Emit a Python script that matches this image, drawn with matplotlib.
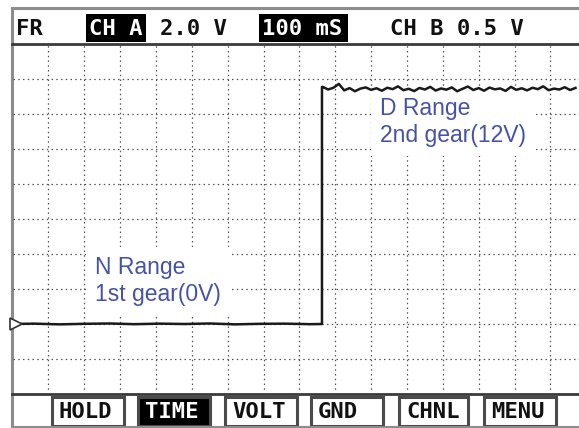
import numpy as np
import matplotlib
matplotlib.use("Agg")
import matplotlib.pyplot as plt
from matplotlib.patches import Rectangle

# ---- scope settings / labels ----
header_tokens = ["FR", "CH A", "2.0 V", "100 mS", "CH B 0.5 V"]
header_inverted = ["CH A", "100 mS"]
button_labels = ["HOLD", "TIME", "VOLT", "GND", "CHNL", "MENU"]
active_button = "TIME"

ms_per_div = 100
volt_per_div = 2.0

# ---- trace (ms, V) ----
low_t = [0, 60, 130, 200, 270, 340, 410, 480, 550, 620, 690, 760, 830, 863]
low_v = [0.0, 0.02, -0.02, 0.01, 0.03, -0.01, 0.02, 0.0, 0.03, -0.02, 0.01, 0.02, -0.01, 0.0]
step_t = 863
high_t = np.arange(865, 1585, 15)
high_v = [13.55, 13.40, 13.50, 13.72, 13.35, 13.48, 13.30, 13.45, 13.52, 13.38,
          13.47, 13.33, 13.50, 13.42, 13.58, 13.36, 13.44, 13.31, 13.49, 13.40,
          13.55, 13.34, 13.46, 13.39, 13.52, 13.30, 13.44, 13.57, 13.37, 13.48,
          13.33, 13.51, 13.41, 13.46, 13.32, 13.55, 13.38, 13.47, 13.35, 13.50,
          13.42, 13.58, 13.36, 13.45, 13.40, 13.53, 13.37, 13.49]

# label position = left edge and baseline of the last line (ms, V)
notes = [(230, 1.31, "N Range\n1st gear(0V)"),
         (1025, 10.4, "D Range\n2nd gear(12V)")]

W, H = 579, 428
fig = plt.figure(figsize=(W / 100, H / 100), dpi=100)

# pixel overlay for the instrument frame
bg = fig.add_axes([0, 0, 1, 1])
bg.set_xlim(0, W); bg.set_ylim(H, 0); bg.axis("off")

# scope screen: 0 ms at px 12.5, 35.86 px/div; 16 V at px 44, -4 V at px 394
div_px = 35.86
x0 = 12.5
ax = fig.add_axes([x0 / W, (H - 394) / H, (W - x0) / W, (394 - 44) / H])
ax.set_facecolor("none")
ax.set_xlim(0, (W - x0) / div_px * ms_per_div)
ax.set_ylim(-2 * volt_per_div, 8 * volt_per_div)
ax.set_xticks(np.arange(ms_per_div, 1600, ms_per_div))
ax.set_yticks(np.arange(-volt_per_div, 16, volt_per_div))
ax.tick_params(length=0, labelbottom=False, labelleft=False)
ax.grid(True, color="#555555", lw=0.9, ls=(0, (1.2, 2.6)))
for s in ax.spines.values():
    s.set_visible(False)

trace_t = list(low_t) + [step_t] + list(high_t)
trace_v = list(low_v) + [high_v[0]] + list(high_v)
ax.plot(trace_t, trace_v, color="#1a1a1a", lw=1.8, zorder=4)
ax.plot([10], [0], marker=">", ms=9, mfc="white", mec="#333333", mew=1.2,
        clip_on=False, zorder=5)

for t, v, txt in notes:
    ax.text(t, v, txt, fontsize=16.5, color="#4652a8", family="Liberation Sans",
            va="baseline", ha="left", linespacing=1.2, zorder=3,
            bbox=dict(boxstyle="square,pad=0.4", fc="white", ec="none"))

# frame lines
frame_c = "#8c8c8c"
bg.plot([12, W], [8, 8], color=frame_c, lw=2.2)
bg.plot([12, 12], [8, H], color=frame_c, lw=2.2)
bg.plot([12, W], [427, 427], color=frame_c, lw=1.5)
bg.plot([12, W], [44, 44], color="#3a3a3a", lw=2)
bg.plot([12, W], [394, 394], color="#3a3a3a", lw=2)

# header
mono = dict(family="DejaVu Sans Mono", weight="bold", fontsize=16, va="center", ha="left")
header_x = [16, 89, 160, 262, 390]
for tok, x in zip(header_tokens, header_x):
    if tok in header_inverted:
        w = 60 if tok == "CH A" else 89
        bg.add_patch(Rectangle((x - 3, 14), w, 28, fc="black", ec="none"))
        bg.text(x, 28.5, tok, color="white", **mono)
    else:
        bg.text(x, 28.5, tok, color="#111111", **mono)

# soft buttons
button_x = [52, 138, 225, 311, 399, 484]
button_w = [72, 72, 72, 72, 69, 72]
for lab, x, w in zip(button_labels, button_x, button_w):
    on = lab == active_button
    bg.add_patch(Rectangle((x, 397), w, 29, fc="black" if on else "white",
                           ec="#4a4a4a", lw=2.2))
    bg.text(x + 7, 412, lab, color="white" if on else "#111111", **mono)

fig.savefig("out.png", dpi=100)
